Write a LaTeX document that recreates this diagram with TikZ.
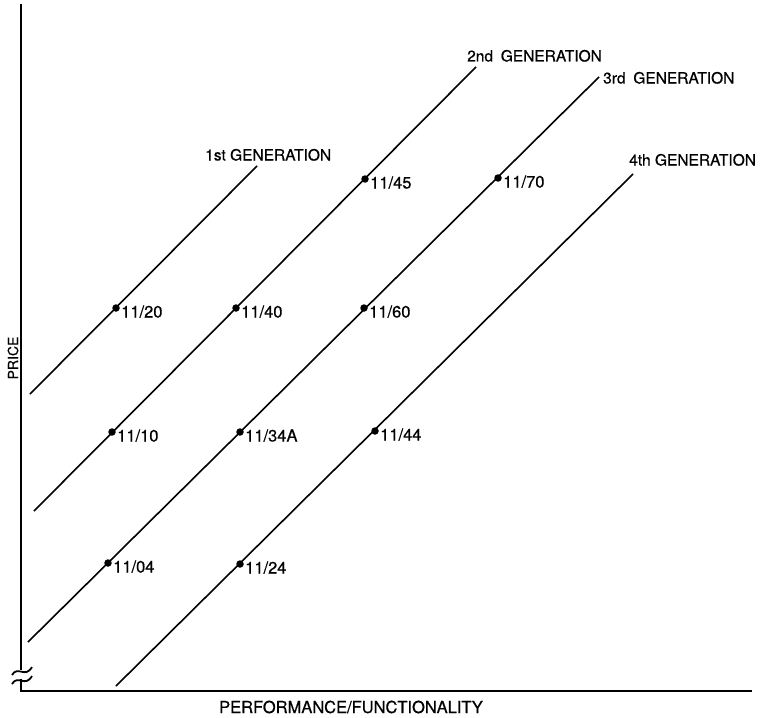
\documentclass[tikz,border=0pt]{standalone}
\usepackage{fontspec}
\setmainfont{TeX Gyre Heros}[FakeBold=0.6]
\begin{document}
\begin{tikzpicture}[x=1pt,y=-1pt,
  genline/.style={line width=1.6pt},
  axisline/.style={line width=2pt},
  dot/.style={circle,fill=black,inner sep=0pt,minimum size=7.5pt},
  lbl/.style={font=\fontsize{16.5}{16.5}\selectfont,inner sep=0pt,anchor=base west},
  genlbl/.style={font=\fontsize{15.5}{15.5}\selectfont,inner sep=0pt,anchor=base west},
  axlbl/.style={font=\fontsize{14}{14}\selectfont,inner sep=0pt}]
\useasboundingbox (0,0) rectangle (773,717);
% axes
\coordinate (ytop) at (21,4);
\coordinate (ybrk1) at (21,670);
\coordinate (ybrk2) at (21,679);
\coordinate (orig) at (21,691);
\coordinate (xend) at (752,691);
\draw[axisline] (ytop) -- (ybrk1);
\draw[axisline] (ybrk2) -- (orig) -- (xend);
\draw[line width=1.8pt] (12,675) .. controls (18,665) and (25,679) .. (32,667);
\draw[line width=1.8pt] (12,684) .. controls (18,674) and (25,688) .. (32,676);
\node[axlbl,rotate=90] (price) at (13,358) {PRICE};
\node[axlbl,font=\fontsize{16.5}{16.5}\selectfont] (perf) at (351,707) {PERFORMANCE/FUNCTIONALITY};
% generation lines
\coordinate (g1a) at (30,394);  \coordinate (g1b) at (257,166);
\coordinate (g2a) at (34,511);  \coordinate (g2b) at (476,67);
\coordinate (g3a) at (28,642);  \coordinate (g3b) at (599,77);
\coordinate (g4a) at (116,686); \coordinate (g4b) at (633,174);
\draw[genline] (g1a) -- (g1b);
\draw[genline] (g2a) -- (g2b);
\draw[genline] (g3a) -- (g3b);
\draw[genline] (g4a) -- (g4b);
\node[genlbl] (gen1) at (205,160.5) {1st GENERATION};
\node[genlbl] (gen2) at (467,61.5) {2nd\hspace{0.5em}GENERATION};
\node[genlbl] (gen3) at (603,83.5) {3rd\hspace{0.5em}GENERATION};
\node[genlbl] (gen4) at (629,165.5) {4th GENERATION};
% models
\node[dot] (d20) at (116,308) {};
\node[dot] (d10) at (112,432) {};
\node[dot] (d40) at (236,308) {};
\node[dot] (d45) at (365,179) {};
\node[dot] (d04) at (108,563) {};
\node[dot] (d34) at (240,432) {};
\node[dot] (d60) at (364,308) {};
\node[dot] (d70) at (498,178) {};
\node[dot] (d24) at (240,564) {};
\node[dot] (d44) at (375,431) {};
\node[lbl] (t20) at ([xshift=5pt,yshift=-9.5pt]d20.center) {11/20};
\node[lbl] (t10) at ([xshift=5pt,yshift=-9.5pt]d10.center) {11/10};
\node[lbl] (t40) at ([xshift=5pt,yshift=-9.5pt]d40.center) {11/40};
\node[lbl] (t45) at ([xshift=5pt,yshift=-9.5pt]d45.center) {11/45};
\node[lbl] (t04) at ([xshift=5pt,yshift=-9.5pt]d04.center) {11/04};
\node[lbl] (t34) at ([xshift=5pt,yshift=-9.5pt]d34.center) {11/34A};
\node[lbl] (t60) at ([xshift=5pt,yshift=-9.5pt]d60.center) {11/60};
\node[lbl] (t70) at ([xshift=5pt,yshift=-9.5pt]d70.center) {11/70};
\node[lbl] (t24) at ([xshift=5pt,yshift=-9.5pt]d24.center) {11/24};
\node[lbl] (t44) at ([xshift=5pt,yshift=-9.5pt]d44.center) {11/44};
\end{tikzpicture}
\end{document}
